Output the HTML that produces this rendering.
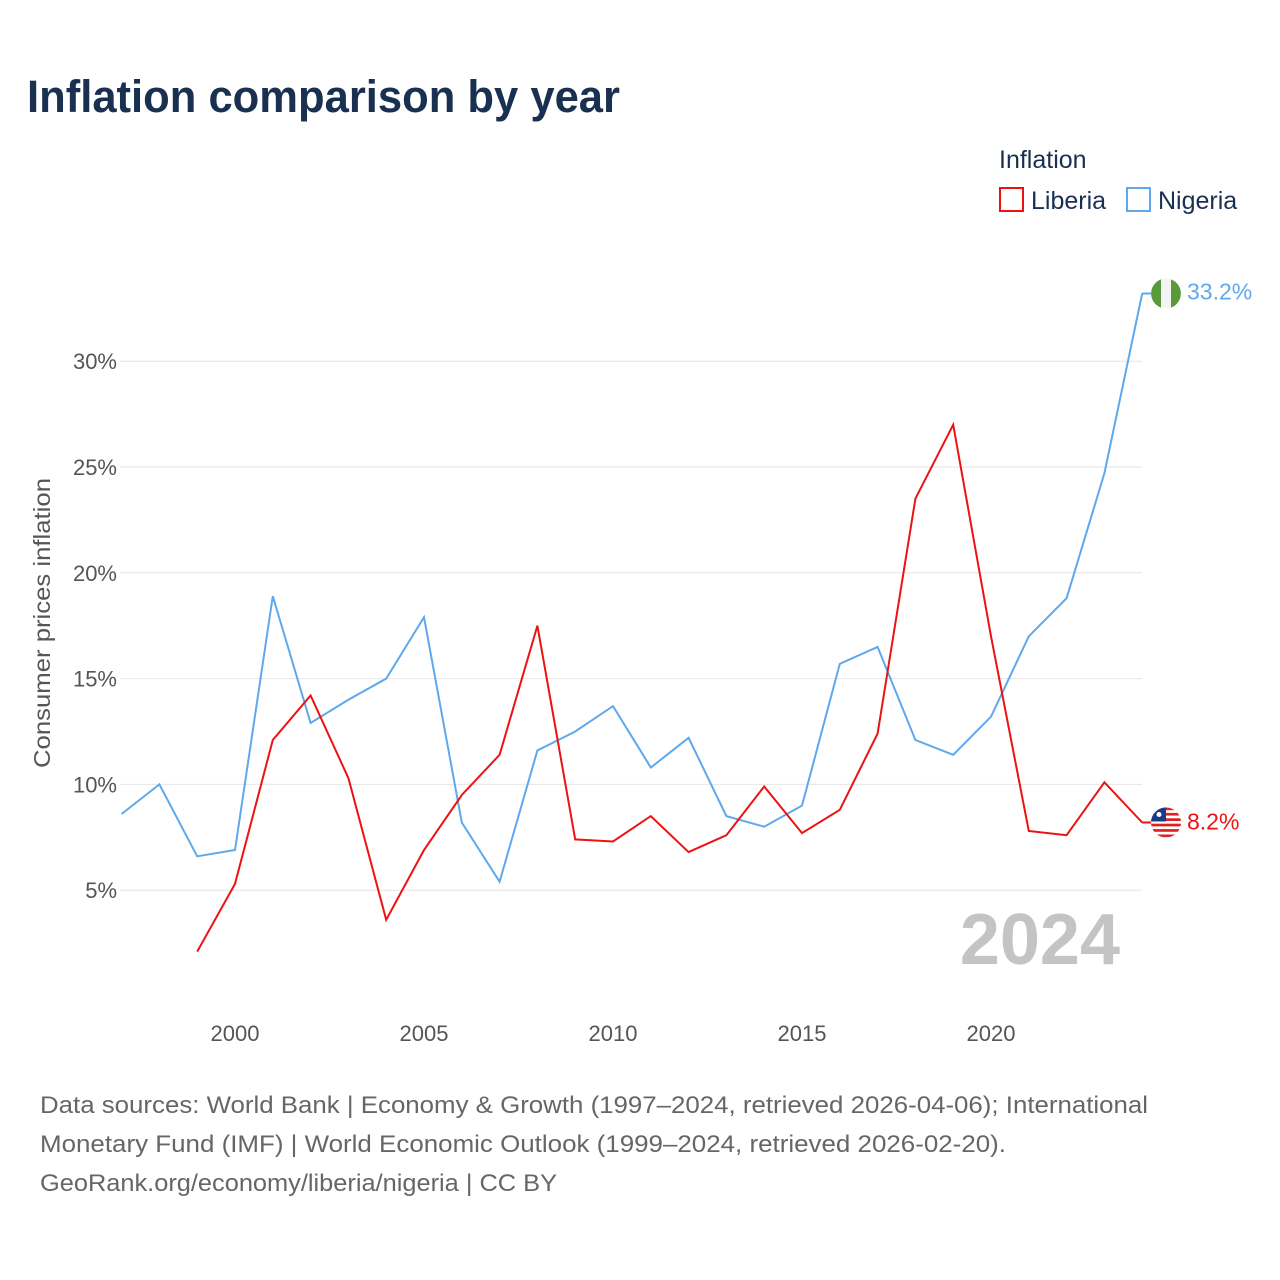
<!DOCTYPE html>
<html><head><meta charset="utf-8"><style>
body{margin:0;background:#fff;font-family:"Liberation Sans",sans-serif}
#wrap{position:relative;width:1280px;height:1280px;overflow:hidden}
</style></head><body>
<div id="wrap">
<svg id="chart" width="1280" height="1280">
<text x="27" y="112" font-size="45" font-weight="bold" fill="#1a3050" textLength="593" lengthAdjust="spacingAndGlyphs">Inflation comparison by year</text>
<g>
<text x="999" y="168" font-size="25" fill="#1a3050">Inflation</text>
<g><rect x="1000" y="188" width="23" height="23" fill="none" stroke="#ee1111" stroke-width="2"/><text x="1031" y="209" font-size="25" fill="#1a3050">Liberia</text></g>
<g><rect x="1127" y="188" width="23" height="23" fill="none" stroke="#5ea8ec" stroke-width="2"/><text x="1158" y="209" font-size="25" fill="#1a3050">Nigeria</text></g>
</g>
<g id="grid"></g>
<g id="yt"></g>
<g id="xt"></g>
<text x="50" y="623" font-size="23" fill="#555" transform="rotate(-90 50 623)" text-anchor="middle" textLength="290" lengthAdjust="spacingAndGlyphs">Consumer prices inflation</text>
<text x="1120" y="964" font-size="72" font-weight="bold" fill="#c4c4c4" text-anchor="end">2024</text>
<g id="series"></g>
<text x="40" y="1113" font-size="24" fill="#666" textLength="1108" lengthAdjust="spacingAndGlyphs">Data sources: World Bank | Economy &amp; Growth (1997–2024, retrieved 2026-04-06); International</text>
<text x="40" y="1152" font-size="24" fill="#666" textLength="966" lengthAdjust="spacingAndGlyphs">Monetary Fund (IMF) | World Economic Outlook (1999–2024, retrieved 2026-02-20).</text>
<text x="40" y="1191" font-size="24" fill="#666" textLength="517" lengthAdjust="spacingAndGlyphs">GeoRank.org/economy/liberia/nigeria | CC BY</text>
</svg>
</div>
<script>
const nigeriaYears=[1997,1998,1999,2000,2001,2002,2003,2004,2005,2006,2007,2008,2009,2010,2011,2012,2013,2014,2015,2016,2017,2018,2019,2020,2021,2022,2023,2024];
const nigeriaValues=[8.6,10.0,6.6,6.9,18.9,12.9,14.0,15.0,17.9,8.2,5.4,11.6,12.5,13.7,10.8,12.2,8.5,8.0,9.0,15.7,16.5,12.1,11.4,13.2,17.0,18.8,24.7,33.2];
const liberiaYears=[1999,2000,2001,2002,2003,2004,2005,2006,2007,2008,2009,2010,2011,2012,2013,2014,2015,2016,2017,2018,2019,2020,2021,2022,2023,2024];
const liberiaValues=[2.1,5.3,12.1,14.2,10.3,3.6,6.9,9.5,11.4,17.5,7.4,7.3,8.5,6.8,7.6,9.9,7.7,8.8,12.4,23.5,27.0,17.0,7.8,7.6,10.1,8.2];
const yTicks=[5,10,15,20,25,30];
const xTicks=[2000,2005,2010,2015,2020];
const NS='http://www.w3.org/2000/svg';
const X=y=>235+(y-2000)*37.8;
const Y=v=>996-v*21.16;
const grid=document.getElementById('grid'),yt=document.getElementById('yt'),xt=document.getElementById('xt'),series=document.getElementById('series');
function mk(t,a,p){const e=document.createElementNS(NS,t);for(const k in a)e.setAttribute(k,a[k]);p.appendChild(e);return e;}
yTicks.forEach(v=>{
 const l=mk('line',{x1:120,x2:1142,y1:Y(v),y2:Y(v),stroke:'#e6e6e6','stroke-width':1},grid);
 
 
 const t=mk('text',{x:117,y:Y(v)+8,'font-size':22,fill:'#555','text-anchor':'end'},yt);t.textContent=v+'%';
 
 
});
xTicks.forEach(y=>{
 const t=mk('text',{x:X(y),y:1041,'font-size':22,fill:'#555','text-anchor':'middle'},xt);t.textContent=y;
 
 
});
function line(ys,vs,col,name){
 const d=ys.map((y,i)=>(i?'L':'M')+X(y).toFixed(1)+','+Y(vs[i]).toFixed(1)).join('');
 const p=mk('path',{d:d,fill:'none',stroke:col,'stroke-width':2},series);
 
 
}
line(nigeriaYears,nigeriaValues,'#5ea8ec','nigeria-line');
line(liberiaYears,liberiaValues,'#ee1111','liberia-line');
const ny=Y(nigeriaValues[nigeriaValues.length-1]),ly=Y(liberiaValues[liberiaValues.length-1]);
const ng=mk('g',{},series);


mk('line',{x1:1142,x2:1152,y1:ny,y2:ny,stroke:'#5ea8ec','stroke-width':2},ng);
mk('circle',{cx:1166,cy:ny,r:15,fill:'#f4f4f4'},ng);
mk('path',{d:`M1161,${ny-14.1}A15,15 0 0 0 1161,${ny+14.1}Z`,fill:'#5a9a3a'},ng);
mk('path',{d:`M1171,${ny-14.1}A15,15 0 0 1 1171,${ny+14.1}Z`,fill:'#5a9a3a'},ng);
const nt=mk('text',{x:1187,y:ny+6,'font-size':23,fill:'#5ea8ec'},ng);nt.textContent=nigeriaValues[nigeriaValues.length-1].toFixed(1)+'%';
const lg=mk('g',{},series);


mk('line',{x1:1142,x2:1152,y1:ly,y2:ly,stroke:'#ee1111','stroke-width':2},lg);
const cp=mk('clipPath',{id:'lc'},lg);mk('circle',{cx:1166,cy:ly,r:15},cp);
const cg=mk('g',{'clip-path':'url(#lc)'},lg);
mk('rect',{x:1151,y:ly-15,width:30,height:30,fill:'#fff'},cg);
for(let i=0;i<6;i++)mk('rect',{x:1151,y:ly-15+i*5.4,width:30,height:2.7,fill:'#d22'},cg);
mk('rect',{x:1151,y:ly-15,width:15,height:14,fill:'#1a3a8a'},cg);
mk('circle',{cx:1159,cy:ly-8,r:2.5,fill:'#fff'},cg);
const ltx=mk('text',{x:1187,y:ly+7,'font-size':23,fill:'#ee1111'},lg);ltx.textContent=liberiaValues[liberiaValues.length-1].toFixed(1)+'%';
</script>
</body></html>
